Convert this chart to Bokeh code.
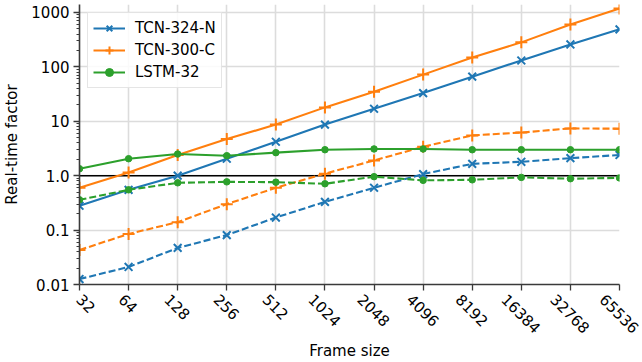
import math
from bokeh.plotting import figure
from bokeh.models import FixedTicker, Span, Range1d, Legend, LegendItem, LogAxis
from bokeh.embed import file_html
from bokeh.resources import INLINE

frame_sizes = [32, 64, 128, 256, 512, 1024, 2048, 4096, 8192, 16384, 32768, 65536]
frame_labels = [str(f) for f in frame_sizes]

tcn324n_solid = [0.28, 0.55, 1.0, 2.05, 4.2, 8.7, 17, 33, 66, 131, 258, 490]
tcn300c_solid = [0.6, 1.14, 2.4, 4.7, 8.7, 18, 35, 72, 148, 282, 600, 1180]
lstm32_solid = [1.34, 2.05, 2.5, 2.33, 2.65, 3.0, 3.1, 3.1, 3.0, 3.0, 3.0, 3.0]
tcn324n_dashed = [0.0126, 0.021, 0.047, 0.081, 0.17, 0.33, 0.60, 1.07, 1.65, 1.8, 2.1, 2.4]
tcn300c_dashed = [0.043, 0.085, 0.14, 0.30, 0.60, 1.09, 1.9, 3.4, 5.5, 6.2, 7.4, 7.3]
lstm32_dashed = [0.36, 0.55, 0.74, 0.77, 0.76, 0.71, 0.96, 0.82, 0.84, 0.93, 0.88, 0.91]

y_ticks = [0.01, 0.1, 1, 10, 100, 1000]
y_tick_labels = ["0.01", "0.1", "1.0", "10", "100", "1000"]

BLUE, ORANGE, GREEN = "#1f77b4", "#ff7f0e", "#2ca02c"
FONT = "DejaVu Sans"
FS = 15

W, H = 642, 362
FRAME_L, FRAME_R = 78, 619

p = figure(width=W, height=H, x_axis_type="log", y_axis_type="log",
           x_range=Range1d(frame_sizes[0], frame_sizes[-1]), y_range=Range1d(0.01, 1400),
           output_backend="svg", toolbar_location=None,
           min_border_left=FRAME_L, min_border_right=W - FRAME_R, min_border_top=4, min_border_bottom=10)
p.outline_line_color = None
p.background_fill_color = "white"
p.border_fill_color = "white"

# primary x axis: spine and ticks only
p.xaxis.ticker = FixedTicker(ticks=frame_sizes)
p.xaxis.major_label_text_font_size = "1px"
p.xaxis.major_label_text_color = None
p.xaxis.major_label_standoff = 0

minor = [m * 10.0 ** e for e in range(-2, 3) for m in range(2, 10)] + [m * 1000.0 for m in (2, 3, 4, 5)]
p.yaxis.ticker = FixedTicker(ticks=y_ticks, minor_ticks=minor)
p.yaxis.major_label_overrides = dict(zip(y_ticks, y_tick_labels))
p.yaxis.major_label_text_font = FONT
p.yaxis.major_label_text_font_size = f"{FS}px"
p.yaxis.major_label_text_color = "black"
p.yaxis.axis_label = "Real-time factor"
p.yaxis.axis_label_text_font = FONT
p.yaxis.axis_label_text_font_size = f"{FS}px"
p.yaxis.axis_label_text_font_style = "normal"
p.yaxis.axis_label_text_color = "black"
p.yaxis.major_label_standoff = 4
p.yaxis.axis_label_standoff = 7

for ax in (p.xaxis[0], p.yaxis[0]):
    ax.axis_line_color = "#3a3a3a"
    ax.axis_line_width = 1.6
    ax.major_tick_line_color = "#3a3a3a"
    ax.major_tick_line_width = 1.3
    ax.major_tick_out = 6
    ax.major_tick_in = 0
    ax.minor_tick_line_color = "#3a3a3a"
    ax.minor_tick_out = 3
    ax.minor_tick_in = 0
p.xaxis.minor_tick_line_color = None

# secondary x axis: rotated labels only, each nudged so its rotated box is centred on its tick
px_per_oct = (FRAME_R - FRAME_L) / math.log2(frame_sizes[-1] / frame_sizes[0])
c45 = math.cos(math.pi / 4)
shifted = []
for f, s in zip(frame_sizes, frame_labels):
    shift_px = len(s) * 0.636 * FS * c45 / 2
    shifted.append(max(frame_sizes[0], f * 2 ** (-shift_px / px_per_oct)))
lab_axis = LogAxis(ticker=FixedTicker(ticks=shifted),
                   major_label_overrides=dict(zip(shifted, frame_labels)),
                   major_label_orientation=-math.pi / 4,
                   axis_line_color=None, major_tick_line_color=None, minor_tick_line_color=None,
                   major_tick_out=0, major_tick_in=0, major_label_standoff=6,
                   major_label_text_font=FONT, major_label_text_font_size=f"{FS}px",
                   major_label_text_color="black",
                   axis_label="Frame size", axis_label_text_font=FONT,
                   axis_label_text_font_size=f"{FS}px", axis_label_text_font_style="normal",
                   axis_label_text_color="black", axis_label_standoff=0)
p.add_layout(lab_axis, "below")

p.xgrid.grid_line_color = "#dcdcdc"
p.ygrid.grid_line_color = "#dcdcdc"
p.xgrid.grid_line_width = 1.6
p.ygrid.grid_line_width = 1.6
p.xgrid.ticker = p.xaxis[0].ticker

span = Span(location=1, dimension="width", line_color="black", line_width=1.5, level="underlay")
p.add_layout(span)

DASH = "7 3"
items = []
series = [
    ("TCN-324-N", BLUE, "x", 11, tcn324n_solid, tcn324n_dashed),
    ("TCN-300-C", ORANGE, "cross", 12, tcn300c_solid, tcn300c_dashed),
    ("LSTM-32", GREEN, "circle", 6.5, lstm32_solid, lstm32_dashed),
]
for name, col, mk, sz, solid, dashed in series:
    l1 = p.line(frame_sizes, solid, line_color=col, line_width=2.1)
    if mk == "circle":
        s1 = p.scatter(frame_sizes, solid, marker=mk, size=sz, fill_color=col, line_color=col)
    else:
        s1 = p.scatter(frame_sizes, solid, marker=mk, size=sz, line_color=col, line_width=2)
    p.line(frame_sizes, dashed, line_color=col, line_width=2.1, line_dash=DASH)
    if mk == "circle":
        p.scatter(frame_sizes, dashed, marker=mk, size=sz, fill_color=col, line_color=col)
    else:
        p.scatter(frame_sizes, dashed, marker=mk, size=sz, line_color=col, line_width=2)
    items.append(LegendItem(label=name, renderers=[l1, s1]))

legend = Legend(items=items, location="top_left")
legend.label_text_font = FONT
legend.label_text_font_size = f"{FS}px"
legend.label_text_color = "black"
legend.glyph_width = 32
legend.glyph_height = 20
legend.label_height = 20
legend.spacing = 2
legend.padding = 5
legend.margin = 8
legend.label_standoff = 10
legend.border_line_color = "#cccccc"
legend.border_line_width = 1
legend.background_fill_alpha = 0.85
p.add_layout(legend)

open("out.html", "w").write(file_html(p, INLINE))
